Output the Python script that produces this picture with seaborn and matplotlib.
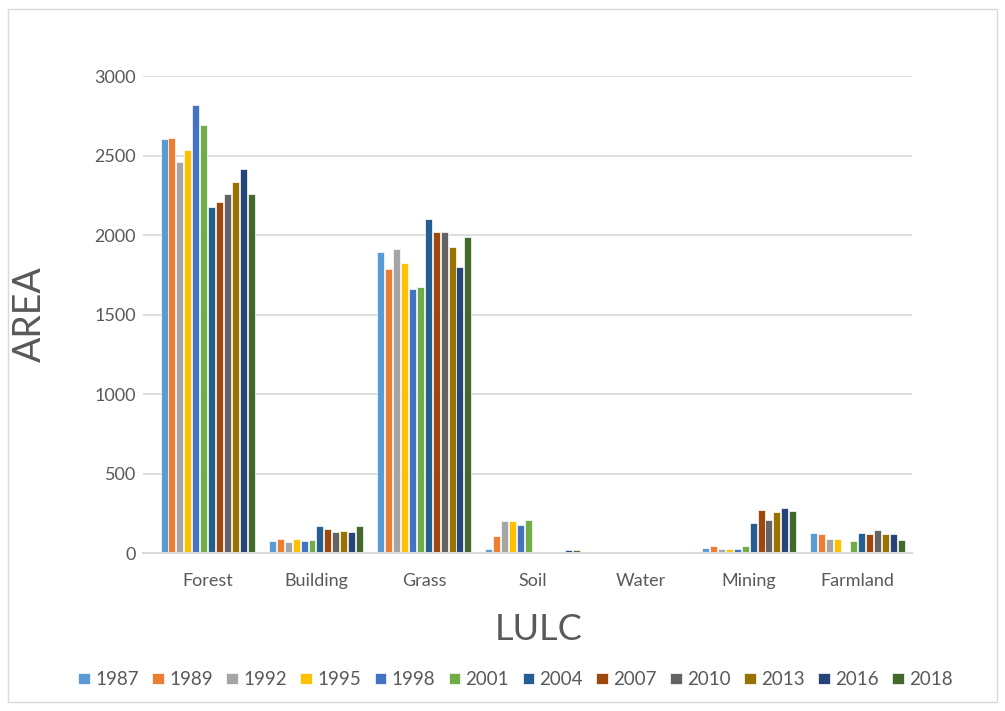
import pandas as pd
import matplotlib.pyplot as plt
import seaborn as sns
from matplotlib.patches import Rectangle

categories = ["Forest", "Building", "Grass", "Soil", "Water", "Mining", "Farmland"]
years = ["1987", "1989", "1992", "1995", "1998", "2001",
         "2004", "2007", "2010", "2013", "2016", "2018"]

# area per year, in category order
area = {
    "1987": [2604, 75, 1893, 27, 0, 33, 126],
    "1989": [2612, 90, 1788, 111, 0, 48, 119],
    "1992": [2459, 69, 1914, 201, 0, 27, 90],
    "1995": [2535, 88, 1824, 201, 0, 25, 90],
    "1998": [2820, 75, 1659, 174, 0, 27, 0],
    "2001": [2690, 82, 1671, 208, 0, 42, 75],
    "2004": [2174, 168, 2103, 0, 0, 189, 126],
    "2007": [2206, 153, 2019, 0, 0, 270, 119],
    "2010": [2256, 132, 2019, 0, 0, 208, 145],
    "2013": [2332, 138, 1923, 0, 0, 258, 119],
    "2016": [2415, 132, 1797, 21, 0, 285, 119],
    "2018": [2256, 168, 1986, 18, 0, 264, 82],
}

colors = ["#5B9BD5", "#ED7D31", "#A5A5A5", "#FFC000", "#4472C4", "#70AD47",
          "#255E91", "#9E480E", "#636363", "#997300", "#264478", "#43682B"]

rows = []
for y in years:
    for c, v in zip(categories, area[y]):
        rows.append({"LULC": c, "Year": y, "AREA": v})
df = pd.DataFrame(rows)

sns.set_style("white")
plt.rcParams["font.family"] = ["Lato", "DejaVu Sans"]
text_col = "#595959"

fig = plt.figure(figsize=(10.05, 7.11), dpi=100)
ax = fig.add_axes([0.142, 0.222, 0.765, 0.671])

sns.barplot(data=df, x="LULC", y="AREA", hue="Year", palette=colors,
            saturation=1, width=0.88, gap=0.12, edgecolor="white",
            linewidth=0.5, ax=ax, legend=True)

ax.set_xlim(-0.6, 6.5)
ax.set_ylim(0, 3000)
ax.set_yticks(range(0, 3001, 500))
ax.yaxis.grid(True, color="#D9D9D9", linewidth=1.2)
ax.set_axisbelow(True)
for s in ["top", "right", "left"]:
    ax.spines[s].set_visible(False)
ax.spines["bottom"].set_color("#D9D9D9")
ax.spines["bottom"].set_linewidth(1.5)
ax.tick_params(axis="both", length=0, labelsize=13, colors=text_col)
ax.tick_params(axis="x", pad=14)
ax.tick_params(axis="y", pad=5)
ax.set_xlabel("LULC", fontsize=26, color=text_col)
ax.set_ylabel("AREA", fontsize=27, color=text_col)
ax.xaxis.set_label_coords(0.515, -0.125)
ax.yaxis.set_label_coords(-0.123, 0.5)

ax.legend(loc="center", bbox_to_anchor=(0.485, -0.265), ncol=12, frameon=False,
          fontsize=13.5, handlelength=0.6, handleheight=0.6, handletextpad=0.3,
          columnspacing=0.72, labelcolor=text_col)

fig.patches.append(Rectangle((0.008, 0.012), 0.984, 0.976, transform=fig.transFigure,
                             fill=False, edgecolor="#D9D9D9", linewidth=1))

fig.savefig("out.png", dpi=100)
